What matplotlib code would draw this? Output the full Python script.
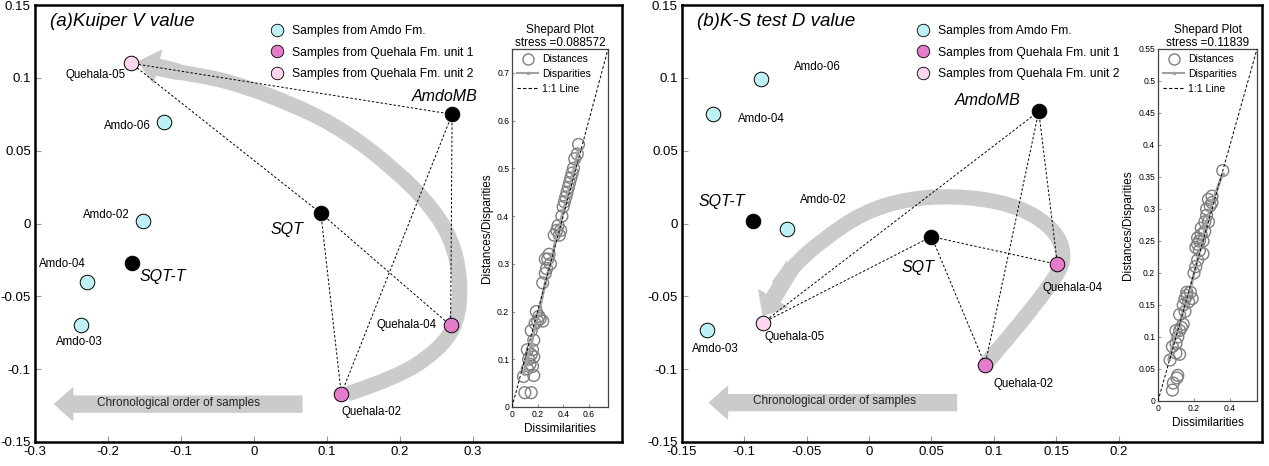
import matplotlib
matplotlib.use('Agg')
import matplotlib.pyplot as plt
from matplotlib.lines import Line2D
from matplotlib.path import Path
from matplotlib.patches import PathPatch
from matplotlib.ticker import FuncFormatter

plt.rcParams['font.family'] = ['Liberation Sans', 'DejaVu Sans']
plt.rcParams['axes.unicode_minus'] = False

# ---- data ----
samples = ['Amdo-02', 'Amdo-03', 'Amdo-04', 'Amdo-06', 'Quehala-02',
           'Quehala-04', 'Quehala-05', 'SQT', 'SQT-T', 'AmdoMB']
groups = ['amdo', 'amdo', 'amdo', 'amdo', 'q1', 'q1', 'q2', 'ref', 'ref', 'ref']

kuiper_x = [-0.152, -0.237, -0.229, -0.123, 0.120, 0.270, -0.168, 0.092, -0.167, 0.272]
kuiper_y = [0.002, -0.070, -0.040, 0.070, -0.117, -0.070, 0.110, 0.007, -0.027, 0.075]
ks_x = [-0.066, -0.130, -0.125, -0.087, 0.093, 0.151, -0.085, 0.050, -0.093, 0.136]
ks_y = [-0.004, -0.073, 0.075, 0.099, -0.097, -0.028, -0.068, -0.009, 0.002, 0.077]

links = [('SQT', 'Quehala-02'), ('SQT', 'Quehala-04'), ('SQT', 'Quehala-05'),
         ('AmdoMB', 'Quehala-02'), ('AmdoMB', 'Quehala-04'), ('AmdoMB', 'Quehala-05')]

legend_labels = {'amdo': 'Samples from Amdo Fm.',
                 'q1': 'Samples from Quehala Fm. unit 1',
                 'q2': 'Samples from Quehala Fm. unit 2'}

# Shepard plot data (dissimilarity, distance)
a_dissim = [0.10, 0.15, 0.09, 0.17, 0.12, 0.14, 0.16, 0.13, 0.15, 0.16, 0.12, 0.17,
            0.15, 0.17, 0.18, 0.20, 0.22, 0.24, 0.19, 0.21, 0.24, 0.26, 0.27, 0.28,
            0.30, 0.29, 0.26, 0.33, 0.35, 0.37, 0.38, 0.36, 0.39, 0.40, 0.41, 0.42,
            0.43, 0.44, 0.45, 0.46, 0.47, 0.48, 0.49, 0.51, 0.52]
a_dist = [0.03, 0.03, 0.064, 0.066, 0.08, 0.09, 0.085, 0.10, 0.11, 0.12, 0.12, 0.105,
          0.16, 0.14, 0.175, 0.18, 0.185, 0.18, 0.20, 0.19, 0.26, 0.28, 0.29, 0.31,
          0.30, 0.32, 0.31, 0.36, 0.37, 0.36, 0.37, 0.38, 0.40, 0.42, 0.43, 0.44,
          0.45, 0.46, 0.47, 0.48, 0.49, 0.50, 0.52, 0.53, 0.55]
a_disp_x = [0.09, 0.12, 0.15, 0.18, 0.22, 0.26, 0.30, 0.35, 0.40, 0.45, 0.52]
a_disp_y = [0.07, 0.10, 0.13, 0.17, 0.21, 0.26, 0.30, 0.36, 0.41, 0.46, 0.54]

b_dissim = [0.08, 0.085, 0.105, 0.11, 0.067, 0.10, 0.12, 0.08, 0.10, 0.11, 0.10, 0.12,
            0.13, 0.14, 0.12, 0.14, 0.15, 0.16, 0.17, 0.15, 0.18, 0.16, 0.19, 0.20,
            0.21, 0.22, 0.21, 0.22, 0.23, 0.22, 0.24, 0.23, 0.25, 0.24, 0.26, 0.27,
            0.28, 0.27, 0.29, 0.30, 0.28, 0.30, 0.36, 0.25, 0.26]
b_dist = [0.017, 0.028, 0.036, 0.04, 0.064, 0.075, 0.073, 0.085, 0.09, 0.10, 0.11, 0.11,
          0.115, 0.12, 0.135, 0.15, 0.16, 0.165, 0.155, 0.14, 0.17, 0.17, 0.16, 0.20,
          0.21, 0.22, 0.24, 0.245, 0.25, 0.255, 0.26, 0.235, 0.25, 0.27, 0.28, 0.29,
          0.28, 0.30, 0.305, 0.31, 0.315, 0.32, 0.36, 0.23, 0.265]
b_disp_x = [0.06, 0.08, 0.10, 0.12, 0.15, 0.18, 0.21, 0.24, 0.27, 0.30, 0.36]
b_disp_y = [0.065, 0.085, 0.10, 0.12, 0.15, 0.175, 0.21, 0.245, 0.28, 0.31, 0.355]

# ---- styling / annotation geometry ----
colors = {'amdo': '#bdf1f6', 'q1': '#e57ccb', 'q2': '#fcd6ef', 'ref': 'black'}
GRAY = '#cbcbcb'

# label offsets in pixels (dx, dy, ha)
offs_a = {'Amdo-02': (-13, 6, 'right'), 'Amdo-03': (-2, -17, 'center'),
          'Amdo-04': (-1, 18, 'right'), 'Amdo-06': (-13, -4, 'right'),
          'Quehala-02': (0, -18, 'left'), 'Quehala-04': (-14, 0, 'right'),
          'Quehala-05': (-6, -12, 'right'), 'SQT': (-17, -16, 'right'),
          'SQT-T': (8, -14, 'left'), 'AmdoMB': (-7, 18, 'center')}
offs_b = {'Amdo-02': (13, 29, 'left'), 'Amdo-03': (8, -19, 'center'),
          'Amdo-04': (25, -5, 'left'), 'Amdo-06': (33, 12, 'left'),
          'Quehala-02': (8, -19, 'left'), 'Quehala-04': (15, -24, 'center'),
          'Quehala-05': (1, -14, 'left'), 'SQT': (-13, -31, 'center'),
          'SQT-T': (-31, 19, 'center'), 'AmdoMB': (-18, 11, 'right')}

arc_a = ([0.128, 0.196, 0.253, 0.280, 0.284, 0.271, 0.241, 0.196, 0.127, 0.058, -0.034, -0.103, -0.138, -0.158],
         [-0.117, -0.106, -0.087, -0.068, -0.038, -0.010, 0.013, 0.036, 0.063, 0.081, 0.098, 0.104, 0.107, 0.111])
arc_b = ([0.093, 0.111, 0.130, 0.147, 0.157, 0.152, 0.133, 0.106, 0.068, 0.031, -0.004, -0.037, -0.061, -0.073, -0.085],
         [-0.097, -0.079, -0.059, -0.040, -0.025, -0.008, 0.006, 0.015, 0.019, 0.017, 0.008, -0.011, -0.029, -0.043, -0.063])

fig = plt.figure(figsize=(12.69, 4.66), dpi=100)
fmt = FuncFormatter(lambda v, p: '%g' % v)


def smooth_path(xs, ys):
    # quadratic bezier through the midpoints of the guide polygon
    pts = list(zip(xs, ys))
    verts, codes = [pts[0]], [Path.MOVETO]
    for i in range(1, len(pts) - 1):
        if i == len(pts) - 2:
            end = pts[i + 1]
        else:
            end = ((pts[i][0] + pts[i + 1][0]) / 2, (pts[i][1] + pts[i + 1][1]) / 2)
        verts += [pts[i], end]
        codes += [Path.CURVE3, Path.CURVE3]
    return Path(verts, codes)


def draw_main(rect, xs, ys, xlim, xticks, offs, arc, chrono, title, legend_x):
    ax = fig.add_axes(rect)
    ax.set_xlim(*xlim)
    ax.set_ylim(-0.15, 0.15)
    ax.set_xticks(xticks)
    ax.set_yticks([-0.15, -0.1, -0.05, 0, 0.05, 0.1, 0.15])
    ax.xaxis.set_major_formatter(fmt)
    ax.yaxis.set_major_formatter(fmt)
    ax.tick_params(direction='in', length=4, color='#9a9a9a', labelsize=9.5, pad=3)
    for s in ax.spines.values():
        s.set_linewidth(1.8)

    pos = {n: (x, y) for n, x, y in zip(samples, xs, ys)}

    # curved chronological arrow
    body = PathPatch(smooth_path(arc[0][:-1], arc[1][:-1]), fill=False, ec=GRAY, lw=11,
                     capstyle='butt', joinstyle='round', zorder=1)
    ax.add_patch(body)
    ax.annotate('', xy=(arc[0][-1], arc[1][-1]), xytext=(arc[0][-3], arc[1][-3]),
                arrowprops=dict(arrowstyle='simple,head_length=1.4,head_width=2.4,tail_width=1.1',
                                mutation_scale=10, color=GRAY, shrinkA=0, shrinkB=0), zorder=1)

    # straight arrow with text
    x0, x1, yc, xt = chrono
    ax.annotate('', xy=(x1, yc), xytext=(x0, yc),
                arrowprops=dict(arrowstyle='simple,head_length=1.3,head_width=2.3,tail_width=1.15',
                                mutation_scale=10, color=GRAY, shrinkA=0, shrinkB=0), zorder=1)
    ax.text(xt, yc + 0.001, 'Chronological order of samples', ha='center', va='center',
            fontsize=8.5, color='#222222', zorder=2)

    for a, b in links:
        ax.plot([pos[a][0], pos[b][0]], [pos[a][1], pos[b][1]], color='k', lw=0.7,
                ls=(0, (2.5, 2)), zorder=2)

    for n, g, x, y in zip(samples, groups, xs, ys):
        ax.scatter(x, y, s=110, c=colors[g], edgecolors='k', linewidths=0.7, zorder=3)
        dx, dy, ha = offs[n]
        if g == 'ref':
            ax.annotate(n, (x, y), xytext=(dx, dy), textcoords='offset pixels', ha=ha,
                        va='center', fontsize=11.5, style='italic')
        else:
            ax.annotate(n, (x, y), xytext=(dx, dy), textcoords='offset pixels', ha=ha,
                        va='center', fontsize=8.3)

    ax.text(0.026, 0.962, title, transform=ax.transAxes, fontsize=13.5, style='italic',
            ha='left', va='center')

    handles = [Line2D([], [], marker='o', ls='none', mfc=colors[k], mec='k', mew=0.6,
                      ms=9, label=legend_labels[k]) for k in ['amdo', 'q1', 'q2']]
    ax.legend(handles=handles, loc='upper left', bbox_to_anchor=(legend_x, 0.954),
              frameon=False, fontsize=8.7, handlelength=1, handletextpad=0.75,
              borderpad=0, borderaxespad=0, labelspacing=0.78)
    return ax


def draw_shepard(rect, dissim, dist, dx, dy, lim, ticks_x, ticks_y, stress):
    ax = fig.add_axes(rect)
    ax.set_xlim(0, lim)
    ax.set_ylim(0, lim)
    ax.scatter(dissim, dist, s=72, facecolors='none', edgecolors='#7f7f7f', linewidths=1.0,
               zorder=2)
    ax.plot(dx, dy, color='#a0a0a0', lw=2, marker='.', ms=3, zorder=3)
    ax.plot([0, lim], [0, lim], color='k', lw=0.7, ls=(0, (3, 2)), zorder=4)
    ax.set_xticks(ticks_x)
    ax.set_yticks(ticks_y)
    ax.xaxis.set_major_formatter(fmt)
    ax.yaxis.set_major_formatter(fmt)
    ax.tick_params(direction='in', length=2.5, color='#9a9a9a', labelsize=6.2, pad=2)
    for s in ax.spines.values():
        s.set_linewidth(0.9)
        s.set_color('#444444')
    ax.set_xlabel('Dissimilarities', fontsize=8.5, labelpad=3)
    ax.set_ylabel('Distances/Disparities', fontsize=8.5, labelpad=3)
    ax.set_title('Shepard Plot\nstress =' + stress, fontsize=8.5, pad=2, linespacing=1.15)
    handles = [Line2D([], [], marker='o', ls='none', mfc='none', mec='#7f7f7f', ms=8,
                      label='Distances'),
               Line2D([], [], color='#a0a0a0', lw=1.5, marker='.', ms=3, label='Disparities'),
               Line2D([], [], color='k', lw=0.8, ls=(0, (3, 2)), label='1:1 Line')]
    ax.legend(handles=handles, loc='upper left', frameon=False, fontsize=7.5,
              handlelength=2.0, handletextpad=0.4, borderpad=0.3, borderaxespad=0.2,
              labelspacing=0.45)
    return ax


draw_main([35 / 1269, 24 / 466, 587 / 1269, 437 / 466], kuiper_x, kuiper_y, (-0.3, 0.505),
          [-0.3, -0.2, -0.1, 0, 0.1, 0.2, 0.3], offs_a, arc_a,
          (0.066, -0.273, -0.124, -0.103), '(a)Kuiper V value', 0.402)
draw_main([682 / 1269, 24 / 466, 580 / 1269, 437 / 466], ks_x, ks_y, (-0.149, 0.315),
          [-0.15, -0.1, -0.05, 0, 0.05, 0.1, 0.15, 0.2], offs_b, arc_b,
          (0.070, -0.128, -0.123, -0.028), '(b)K-S test D value', 0.405)

draw_shepard([512 / 1269, 59 / 466, 96 / 1269, 358 / 466], a_dissim, a_dist, a_disp_x, a_disp_y,
             0.75, [0, 0.2, 0.4, 0.6], [0, 0.1, 0.2, 0.3, 0.4, 0.5, 0.6, 0.7], '0.088572')
draw_shepard([1158 / 1269, 65 / 466, 99 / 1269, 352 / 466], b_dissim, b_dist, b_disp_x, b_disp_y,
             0.55, [0, 0.2, 0.4], [0, 0.05, 0.1, 0.15, 0.2, 0.25, 0.3, 0.35, 0.4, 0.45, 0.5, 0.55],
             '0.11839')

fig.savefig('out.png', dpi=100)
